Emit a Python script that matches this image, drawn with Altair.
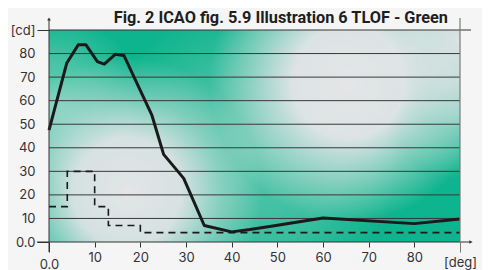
import altair as alt
import pandas as pd

# ---- data ----
angle_solid = [0, 3.9, 6.4, 8.1, 10.6, 12.1, 14.5, 16.4, 22.5, 25.1, 29.5, 34, 40, 44, 49, 60, 80, 90]
cd_solid = [47.5, 76, 83.7, 83.7, 76.6, 75.5, 79.7, 79.2, 54, 37.2, 27, 7, 4.3, 5.3, 6.8, 10.2, 7.8, 9.8]

angle_min = [0, 4, 10, 13, 20, 90]
cd_min = [15, 30, 15, 7, 4, 4]

x_ticks = [0, 10, 20, 30, 40, 50, 60, 70, 80, 90]
y_ticks = [0, 10, 20, 30, 40, 50, 60, 70, 80, 90]
grid_values = [10, 20, 30, 40, 50, 60, 70, 80]

title_text = "Fig. 2 ICAO fig. 5.9 Illustration 6 TLOF - Green"

W, H = 411, 212
FONT = "Inter"
PX_PER_X = W / 90.0
PX_PER_Y = H / 90.0

solid_df = pd.DataFrame({"deg": angle_solid, "cd": cd_solid})
min_df = pd.DataFrame({"deg": angle_min, "cd": cd_min})
grid_df = pd.DataFrame({"cd": grid_values})
one = pd.DataFrame({"a": [0]})

xs = alt.Scale(domain=[0, 90], nice=False)
ys = alt.Scale(domain=[0, 90], nice=False)

x_axis = alt.Axis(
    values=x_ticks, grid=False, domain=False, title=None,
    labelExpr="datum.value == 0 ? '0.0' : (datum.value == 90 ? '[deg]' : datum.label)",
    labelFont=FONT, labelFontSize=13, labelColor="#333333",
    tickColor={"condition": {"test": "datum.value == 90", "value": "#7a7a7a"}, "value": "#333333"},
    tickSize={"condition": {"test": "datum.value == 0 || datum.value == 90", "value": 10}, "value": 5},
    labelPadding={"condition": {"test": "datum.value == 0", "value": 6},
                  "value": 4},
    labelFlush=False, labelOverlap=False,
)
y_axis = alt.Axis(
    values=y_ticks, grid=False, domain=False, title=None,
    labelExpr="datum.value == 0 ? '0.0' : (datum.value == 90 ? '[cd]' : datum.label)",
    labelFont=FONT, labelFontSize=13, labelColor="#333333",
    tickColor="#333333",
    tickSize={"condition": {"test": "datum.value == 0 || datum.value == 90", "value": 12}, "value": 0},
    labelPadding={"condition": {"test": "datum.value == 0 || datum.value == 90", "value": 2}, "value": 14},
    labelFlush=False, labelOverlap=False,
)

def X(field):
    return alt.X(field, scale=xs, axis=x_axis)

def Y(field):
    return alt.Y(field, scale=ys, axis=y_axis)

def spot(cx_px, cy_px, r_px, rgb, stops):
    # circular glow, given as a square in pixel terms
    cx = cx_px / PX_PER_X
    cy = (H - cy_px) / PX_PER_Y
    hx = r_px / PX_PER_X
    hy = r_px / PX_PER_Y
    df = pd.DataFrame({"x": [cx - hx], "x2": [cx + hx], "y": [cy - hy], "y2": [cy + hy]})
    grad = alt.RadialGradient(
        gradient="radial", x1=0.5, y1=0.5, r1=0, x2=0.5, y2=0.5, r2=0.5,
        stops=[alt.GradientStop(offset=o, color=f"rgba({rgb},{a})") for o, a in stops],
    )
    return alt.Chart(df).mark_rect(fill=grad, clip=True).encode(
        x=X("x:Q"), x2="x2:Q", y=Y("y:Q"), y2="y2:Q",
    )

GREY = "228,229,231"
# positions in plot pixels (origin at plot top-left)
spots = [
    spot(5, 75, 90, "235,240,238", [(0, 0.45), (0.5, 0.25), (1, 0)]),
    spot(200, 125, 150, GREY, [(0, 0.35), (0.6, 0.2), (1, 0)]),
    spot(78, 162, 135, GREY, [(0, 1), (0.4, 0.92), (0.7, 0.4), (1, 0)]),
    spot(300, 52, 140, GREY, [(0, 1), (0.4, 0.96), (0.75, 0.4), (1, 0)]),
    spot(411, 10, 90, GREY, [(0, 0.95), (0.5, 0.7), (1, 0)]),
    spot(411, 85, 65, GREY, [(0, 0.45), (0.5, 0.25), (1, 0)]),
]

grid = alt.Chart(grid_df).mark_rule(color="#383838", strokeWidth=1).encode(
    y=Y("cd:Q"), x=alt.value(0), x2=alt.value(W))

min_line = alt.Chart(min_df).mark_line(
    interpolate="step-after", color="#1a1a1a", strokeWidth=1.6, strokeDash=[7, 5]
).encode(x=X("deg:Q"), y=Y("cd:Q"))

solid_line = alt.Chart(solid_df).mark_line(
    color="#1a1a1a", strokeWidth=3, strokeJoin="round"
).encode(x=X("deg:Q"), y=Y("cd:Q"))

# decorations: axis lines extending beyond plot, arrows, border
x_axis_line = alt.Chart(one).mark_rule(color="#333333", strokeWidth=1).encode(
    x=alt.value(-12), x2=alt.value(W + 11), y=alt.value(H))
y_axis_line = alt.Chart(one).mark_rule(color="#333333", strokeWidth=1).encode(
    x=alt.value(0), y=alt.value(-11), y2=alt.value(H + 10))
top_line = alt.Chart(one).mark_rule(color="#333333", strokeWidth=1).encode(
    x=alt.value(0), x2=alt.value(W + 11), y=alt.value(0))
right_border = alt.Chart(one).mark_rule(color="#7a7a7a", strokeWidth=1.2).encode(
    x=alt.value(W), y=alt.value(-12), y2=alt.value(H))
arrow_up = alt.Chart(one).mark_point(shape="triangle-up", filled=True, color="#333333", size=14, opacity=1).encode(
    x=alt.value(0), y=alt.value(-11))
arrow_right = alt.Chart(one).mark_point(shape="triangle-right", filled=True, color="#333333", size=14, opacity=1).encode(
    x=alt.value(W + 11), y=alt.value(H))

title = alt.Chart(one).mark_text(
    align="right", baseline="alphabetic", font="Roboto", fontWeight="bold",
    fontSize=16.3, color="#1e1e1e"
).encode(x=alt.value(399), y=alt.value(-7), text=alt.value(title_text))

chart = alt.layer(
    *spots, grid, min_line, solid_line,
    x_axis_line, y_axis_line, top_line, right_border, arrow_up, arrow_right, title
).properties(
    width=W, height=H,
    autosize=alt.AutoSizeParams(type="none"),
    padding={"left": 41, "top": 22, "right": 22, "bottom": 28},
    background="#f5f5f5",
).configure_view(fill="#0db48d", stroke=None)

chart.save("out.html", embed_options={"renderer": "svg", "actions": False})
